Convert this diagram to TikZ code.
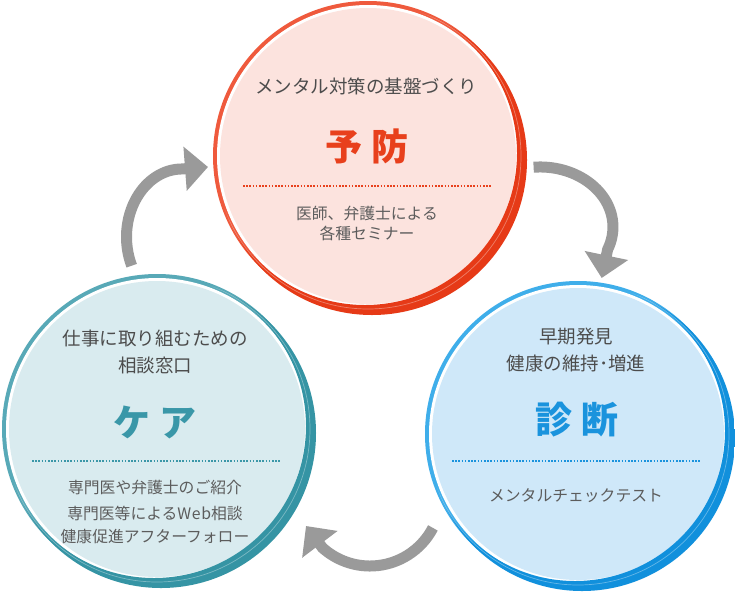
\documentclass[tikz,border=0pt]{standalone}
\usepackage{fontspec}
\setmainfont{Noto Sans CJK JP}
\usetikzlibrary{arrows.meta}
\definecolor{redlight}{HTML}{EF5A3D}
\definecolor{reddark}{HTML}{E63A17}
\definecolor{redfill}{HTML}{FCE3DE}
\definecolor{redtitle}{HTML}{E8401C}
\definecolor{teallight}{HTML}{58A9B7}
\definecolor{tealdark}{HTML}{3594A4}
\definecolor{tealfill}{HTML}{D9EBEF}
\definecolor{tealtitle}{HTML}{3A97A8}
\definecolor{bluelight}{HTML}{3FAEEA}
\definecolor{bluedark}{HTML}{1190DC}
\definecolor{bluefill}{HTML}{CFE8F9}
\definecolor{bluetitle}{HTML}{1A93DD}
\definecolor{headgray}{HTML}{4C4C4C}
\definecolor{subgray}{HTML}{5C5C5C}
\definecolor{arrowgray}{HTML}{9A9A9A}
\newcommand\mybubble[6]{%
  % #1 centre name, #2 radius (pt), #3 light ring, #4 dark ring, #5 fill
  \fill[#3] (#1) circle[radius=#2pt];
  \fill[white] (#1) circle[radius=#2pt-4pt];
  \fill[#5] (#1) circle[radius=#2pt-7pt];
  \begin{scope}
    \clip ([shift={(4,4)}]#1) circle[radius=#2pt];
    \fill[#4, even odd rule] ([shift={(-200,-200)}]#1) rectangle ([shift={(200,200)}]#1)
      ([shift={(-3,-3)}]#1) circle[radius=#2pt-3pt];
    \draw[white, opacity=0.35, line width=0.7pt] (#1) circle[radius=#2pt-2pt];
  \end{scope}
}
\tikzset{
  heading/.style={font=\fontsize{18.5}{22}\selectfont, text=headgray, inner sep=0pt},
  subtext/.style={font=\fontsize{15.8}{19}\selectfont, text=subgray, inner sep=0pt},
  titletext/.style={font=\fontsize{37}{41}\selectfont\bfseries, inner sep=0pt},
  sepline/.style={dash pattern=on 1.6pt off 1.6pt, line width=1.6pt},
  cyc/.style={draw=arrowgray, line width=11pt, -{Triangle[length=23pt,width=43pt]}},
}
\begin{document}
\begin{tikzpicture}[x=1pt,y=-1pt]
\useasboundingbox (0,0) rectangle (735,592);
\fill[white] (0,0) rectangle (735,592);
\coordinate (cyobo) at (368,156);
\coordinate (ccare) at (157,429);
\coordinate (cshin) at (578,434);
\mybubble{cyobo}{155}{redlight}{reddark}{redfill}{}
\mybubble{ccare}{155}{teallight}{tealdark}{tealfill}{}
\mybubble{cshin}{153}{bluelight}{bluedark}{bluefill}{}

% top circle
\node[heading] (yh) at (366,86) {メンタル対策の基盤づくり};
\node[titletext, text=redtitle] (yt) at (367,146) {予\hspace{9pt}防};
\coordinate (ysa) at (243,186);
\coordinate (ysb) at (492,186);
\draw[sepline, redtitle] (ysa) -- (ysb);
\node[subtext] (ys1) at (367,213) {医師、弁護士による};
\node[subtext] (ys2) at (367,233) {各種セミナー};

% care circle
\node[heading] (ch1) at (155,338) {仕事に取り組むための};
\node[heading] (ch2) at (155,365) {相談窓口};
\node[titletext, text=tealtitle] (ct) at (155,422) {ケ\hspace{9pt}ア};
\coordinate (csa) at (32,461);
\coordinate (csb) at (280,461);
\draw[sepline, tealtitle] (csa) -- (csb);
\node[subtext] (cs1) at (155,487) {専門医や弁護士のご紹介};
\node[subtext] (cs2) at (155,513) {専門医等によるW\hspace{0.6pt}e\hspace{0.6pt}b相談};
\node[subtext] (cs3) at (155,537) {健康促進アフターフォロー};

% diagnosis circle
\node[heading] (dh1) at (576,337) {早期発見};
\node[heading] (dh2) at (576,363) {健康の維持･増進};
\node[titletext, text=bluetitle] (dt) at (577,420) {診\hspace{9pt}断};
\coordinate (dsa) at (452,461);
\coordinate (dsb) at (701,461);
\draw[sepline, bluetitle] (dsa) -- (dsb);
\node[subtext] (ds1) at (576,496) {メンタルチェックテスト};

% cycle arrows
\coordinate (a1s) at (131.7,265.7);
\coordinate (a1t) at (208,167);
\draw[cyc] (a1s) arc[start angle=205, end angle=90, x radius=55.5pt, y radius=68pt] -- (a1t);
\coordinate (a2s) at (533.6,167.2);
\coordinate (a2t) at (601.7,278);
\draw[cyc] (a2s) arc[start angle=95, end angle=-22, x radius=73pt, y radius=60pt] -- (a2t);
\coordinate (a3s) at (432.9,527.9);
\coordinate (a3t) at (306,526);
\draw[cyc] (a3s) arc[start angle=-27.6, end angle=-132, radius=71pt] -- (a3t);
\end{tikzpicture}
\end{document}
